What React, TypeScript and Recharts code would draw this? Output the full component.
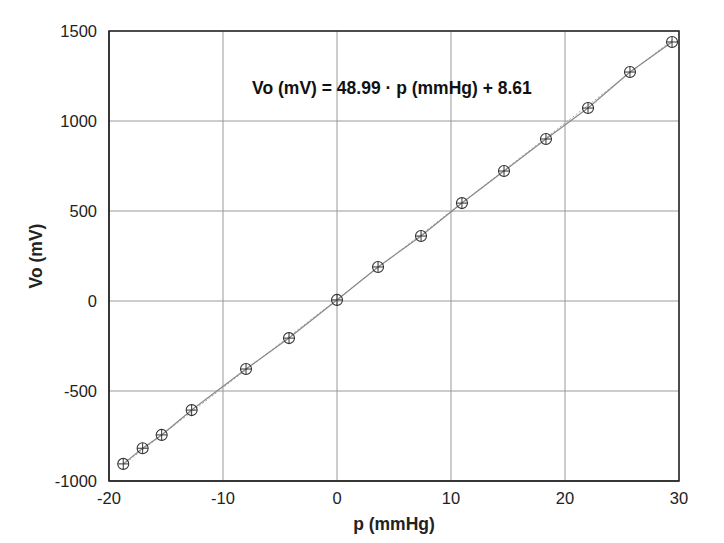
import {
  LineChart,
  Line,
  XAxis,
  YAxis,
  CartesianGrid,
  ReferenceArea,
  ReferenceDot,
  Label,
} from "recharts";

// pressure (mmHg) and measured output (mV)
const pressure = [-18.75, -17.05, -15.38, -12.75, -7.98, -4.21, 0, 3.6, 7.37, 10.96, 14.65, 18.33, 22.02, 25.7, 29.39];
const voltage = [-905, -818, -744, -606, -378, -206, 6, 189, 361, 544, 722, 900, 1072, 1272, 1439];

const xTicks = [-20, -10, 0, 10, 20, 30];
const yTicks = [-1000, -500, 0, 500, 1000, 1500];

const slope = 48.99;
const offset = 8.61;

const data = pressure.map((p, i) => ({ p, vo: voltage[i], fit: slope * p + offset }));

const font = "'Liberation Sans', Arial, sans-serif";

const CrossCircle = (props: any) => {
  const { cx, cy } = props;
  if (cx == null || cy == null) return null;
  return (
    <g>
      <circle cx={cx} cy={cy} r={5.5} fill="none" stroke="#333" strokeWidth={1.1} />
      <line x1={cx - 5.5} y1={cy} x2={cx + 5.5} y2={cy} stroke="#333" strokeWidth={1} />
      <line x1={cx} y1={cy - 5.5} x2={cx} y2={cy + 5.5} stroke="#333" strokeWidth={1} />
    </g>
  );
};

const App = () => {
  return (
    <div style={{ position: "absolute", left: 0, top: 0, background: "#fff", fontFamily: font }}>
      <LineChart width={724} height={543} data={data} margin={{ top: 31, right: 45, bottom: 0, left: 0 }}>
        <CartesianGrid stroke="#9a9a9a" strokeWidth={1} />
        <XAxis
          dataKey="p"
          type="number"
          domain={[-20, 30]}
          ticks={xTicks}
          height={62}
          tickLine={false}
          axisLine={{ stroke: "#222" }}
          tickMargin={5}
          tick={{ fill: "#222", fontSize: 16.5, fontFamily: font }}
        >
          <Label value="p (mmHg)" position="insideBottom" offset={13} style={{ fill: "#222", fontSize: 17.5, fontWeight: "bold", fontFamily: font }} />
        </XAxis>
        <YAxis
          type="number"
          domain={[-1000, 1500]}
          ticks={yTicks}
          width={109}
          tickLine={false}
          axisLine={{ stroke: "#222" }}
          tickMargin={6}
          tick={{ fill: "#222", fontSize: 16.5, fontFamily: font }}
        >
          <Label value="Vo (mV)" angle={-90} position="insideLeft" offset={36} style={{ fill: "#222", fontSize: 17.5, fontWeight: "bold", fontFamily: font, textAnchor: "middle" }} />
        </YAxis>
        <ReferenceArea x1={-20} x2={30} y1={-1000} y2={1500} fill="none" stroke="#222" strokeWidth={1.5} ifOverflow="visible" />
        <Line dataKey="fit" stroke="#aaa" strokeWidth={1} strokeDasharray="2 2" dot={false} isAnimationActive={false} />
        <Line dataKey="vo" stroke="#888" strokeWidth={1.2} dot={<CrossCircle />} isAnimationActive={false} />
        <ReferenceDot x={4.82} y={1183} r={0} ifOverflow="visible">
          <Label
            value={`Vo (mV) = ${slope} · p (mmHg) + ${offset}`}
            position="center"
            style={{ fill: "#111", fontSize: 17.5, fontWeight: "bold", fontFamily: font }}
          />
        </ReferenceDot>
      </LineChart>
    </div>
  );
};

export default App;
